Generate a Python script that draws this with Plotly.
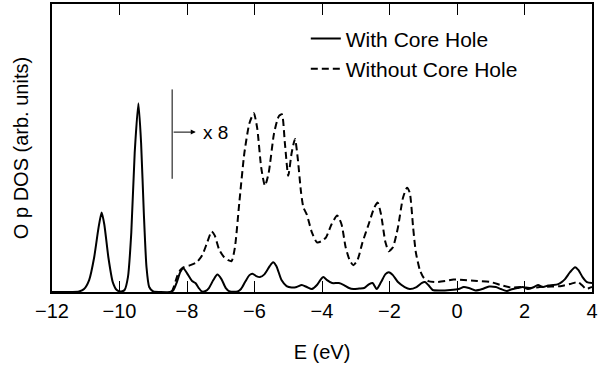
import plotly.graph_objects as go

# Energy (eV) and O p DOS (arb. units)
E_with = [-12.0, -11.4, -11.2, -11.05, -10.9, -10.75, -10.62, -10.53, -10.45, -10.33, -10.2, -10.08,
          -9.95, -9.85, -9.75, -9.65, -9.55, -9.44, -9.36, -9.28, -9.2, -9.12, -9.0, -8.8, -8.5,
          -8.4, -8.3, -8.2, -8.11, -8.0, -7.85, -7.75, -7.65, -7.56, -7.45, -7.35, -7.22, -7.1,
          -6.98, -6.85, -6.73, -6.5, -6.4, -6.28, -6.15, -6.06, -5.95, -5.84, -5.7, -5.55, -5.45,
          -5.35, -5.2, -5.05, -4.9, -4.75, -4.6, -4.45, -4.3, -4.15, -4.05, -3.96, -3.85, -3.7,
          -3.5, -3.35, -3.2, -3.07, -2.9, -2.75, -2.6, -2.5, -2.38, -2.25, -2.12, -2.02, -1.9,
          -1.75, -1.55, -1.4, -1.2, -1.05, -0.95, -0.85, -0.72, -0.5, -0.2, 0.05, 0.2, 0.35, 0.55,
          0.75, 0.95, 1.15, 1.3, 1.48, 1.6, 1.8, 1.95, 2.1, 2.25, 2.4, 2.55, 2.7, 2.85, 3.0, 3.1,
          3.2, 3.35, 3.5, 3.6, 3.72, 3.85, 4.0]
DOS_with = [0, 0, 0.5, 3, 12, 35, 65, 80, 68, 35, 10, 2,
            0.5, 2, 15, 60, 140, 190, 150, 80, 25, 5, 0.5, 0, 0,
            2, 10, 20, 24, 19, 11, 9, 4, 0.5, 1, 4, 12, 17.5,
            13, 4, 0.5, 0.5, 3, 10, 17, 18.5, 16, 15, 18, 26, 30,
            26, 12, 6, 4.5, 5, 7, 5, 3, 7, 12, 15, 12, 9,
            9, 7, 4, 3, 3.5, 4, 8, 9, 3, 10, 18, 20, 17,
            10, 5, 3, 5, 9, 10, 7, 2, 1.5, 2, 3, 5, 4, 1.5,
            3, 5.5, 5, 3, 1, 2.5, 4, 5, 3, 4.5, 7, 5, 6.5, 7, 8, 10,
            13, 20, 25, 22, 15, 10, 9]

E_without = [-8.45, -8.38, -8.3, -8.2, -8.1, -7.9, -7.71, -7.55, -7.4, -7.27, -7.18, -7.05, -6.9,
             -6.78, -6.68, -6.58, -6.45, -6.3, -6.15, -6.02, -5.92, -5.8, -5.69, -5.58, -5.42,
             -5.28, -5.19, -5.1, -5.0, -4.9, -4.8, -4.72, -4.62, -4.55, -4.45, -4.3, -4.15, -4.02,
             -3.88, -3.72, -3.55, -3.42, -3.3, -3.18, -3.07, -2.95, -2.8, -2.62, -2.45, -2.35,
             -2.25, -2.12, -2.02, -1.9, -1.75, -1.6, -1.48, -1.4, -1.3, -1.22, -1.1, -1.0, -0.85,
             -0.6, -0.35, -0.1, 0.2, 0.6, 1.0, 1.3, 1.6, 1.9, 2.2, 2.45, 2.8, 3.1, 3.35, 3.58,
             3.7, 3.82, 3.92, 4.0]
DOS_without = [0, 6, 15, 22, 25, 27, 30, 37, 50, 61, 57, 43, 35,
               32, 31, 45, 90, 140, 170, 180, 165, 125, 107, 120, 160,
               177, 179, 150, 117, 140, 154, 135, 100, 85, 78, 60, 50, 51,
               55, 68, 77, 68, 45, 32, 27, 32, 50, 68, 85, 90,
               78, 50, 41, 45, 65, 95, 105, 100, 65, 40, 22, 15, 11,
               10, 11, 12.5, 12, 11, 10, 7, 4.5, 5, 4, 5, 5.5, 6, 8, 10,
               7, 3, 4, 5]

x_ticks = [-12, -10, -8, -6, -4, -2, 0, 2, 4]
series_names = ["With Core Hole", "Without Core Hole"]
scale_label = "x 8"

FONT = "Liberation Sans, Arial, Helvetica, sans-serif"

fig = go.Figure()
fig.add_trace(go.Scatter(x=E_with, y=DOS_with, mode="lines", name=series_names[0],
                         line=dict(color="black", width=2, shape="spline", smoothing=0.6)))
fig.add_trace(go.Scatter(x=E_without, y=DOS_without, mode="lines", name=series_names[1],
                         line=dict(color="black", width=2, dash="7px,4px", shape="spline", smoothing=0.6)))

# "x 8" scale marker: vertical bar with arrow
fig.add_shape(type="line", xref="x", yref="y", x0=-8.44, x1=-8.44, y0=114, y1=204,
              line=dict(color="black", width=1))
fig.add_annotation(x=-7.74, y=161, ax=-8.44, ay=161, xref="x", yref="y", axref="x", ayref="y",
                   text="", showarrow=True, arrowhead=2, arrowsize=1, arrowwidth=1, arrowcolor="black")
fig.add_annotation(x=-7.59, y=161, xref="x", yref="y", text=scale_label, showarrow=False,
                   xanchor="left", yanchor="middle", font=dict(family=FONT, size=19, color="black"))

fig.update_layout(
    width=604, height=370,
    margin=dict(l=52, r=12, t=2, b=78),
    paper_bgcolor="white", plot_bgcolor="white",
    font=dict(family=FONT, size=20, color="black"),
    showlegend=True,
    legend=dict(x=0.47, y=0.95, xanchor="left", yanchor="top", bgcolor="rgba(0,0,0,0)",
                font=dict(family=FONT, size=21, color="black"), tracegroupgap=0),
)
fig.update_xaxes(range=[-12, 4], tickvals=x_ticks, ticktext=[("\u2212" + str(-t)) if t < 0 else str(t) for t in x_ticks],
                 ticks="inside", ticklen=11, tickwidth=1, tickcolor="black",
                 showline=True, linecolor="black", linewidth=1.5, mirror="ticks",
                 showgrid=False, zeroline=False,
                 title=dict(text="E (eV)", standoff=24, font=dict(family=FONT, size=20)))
fig.update_yaxes(range=[0, 290], showticklabels=False, ticks="",
                 showline=True, linecolor="black", linewidth=1.5, mirror=True,
                 showgrid=False, zeroline=False,
                 title=dict(text="O p DOS (arb. units)", standoff=16, font=dict(family=FONT, size=20)))

fig.write_html("out.html")
